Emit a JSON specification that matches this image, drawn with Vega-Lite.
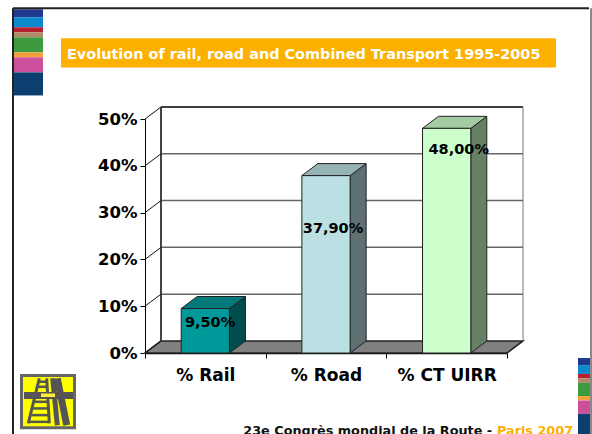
{"$schema":"https://vega.github.io/schema/vega-lite/v6.json","width":362,"height":234,"autosize":{"type":"none"},"padding":{"left":145,"top":119,"right":85,"bottom":81},"background":"white","config":{"view":{"stroke":null}},
"datasets":{
"bars":[{"category":"% Rail","value":9.5},{"category":"% Road","value":37.9},{"category":"% CT UIRR","value":48}],
"ticks":[{"tick":0},{"tick":10},{"tick":20},{"tick":30},{"tick":40},{"tick":50}],
"stripes":[{"order":1,"stripe":"navy","share":8},{"order":2,"stripe":"blue","share":10},{"order":3,"stripe":"red","share":5},{"order":4,"stripe":"tan","share":5},{"order":5,"stripe":"green","share":15},{"order":6,"stripe":"orange","share":5},{"order":7,"stripe":"magenta","share":15},{"order":8,"stripe":"dark","share":23}],
"one":[{"item":"slide"}]},
"resolve":{"scale":{"fill":"independent"},"axis":{"x":"independent","y":"independent"}},
"layer":[
{"data":{"name":"ticks"},"transform":[{"filter":"datum.tick==0"},{"calculate":"0","as":"near"},{"calculate":"1","as":"far"},{"fold":["near","far"],"as":["corner","depth"]},{"calculate":"datum.depth*0.1326","as":"xa"},{"calculate":"3+datum.depth*0.1326","as":"xb"},{"calculate":"datum.depth*2.57","as":"yy"}],
"mark":{"type":"area","orient":"horizontal","fill":"#808080","stroke":"#222222","strokeWidth":1.5},
"encoding":{"x":{"field":"xa","type":"quantitative","stack":null,"scale":{"domain":[0,3]},"axis":{"orient":"bottom","values":[0,1,2,3],"title":null,"grid":false,"domainColor":"#000000","domainWidth":1.5,"tickColor":"#000000","tickSize":5,"labelExpr":"['% Rail','% Road','% CT UIRR',''][datum.value]","labelOffset":60.33,"labelFont":"DejaVu Sans","labelFontWeight":"bold","labelFontSize":17,"labelColor":"#000000","labelPadding":9,"labelBound":false,"labelFlush":false,"labelOverlap":false}},"x2":{"field":"xb"},
"y":{"field":"yy","type":"quantitative","scale":{"domain":[0,50]},"axis":{"orient":"left","values":[0,10,20,30,40,50],"title":null,"grid":false,"domainColor":"#000000","tickColor":"#000000","tickSize":5,"labelExpr":"datum.value+'%'","labelFont":"DejaVu Sans","labelFontWeight":"bold","labelFontSize":16.5,"labelColor":"#000000","labelPadding":3,"labelBound":false,"labelOverlap":false}},"detail":{"field":"tick"}}},
{"data":{"name":"ticks"},"transform":[{"calculate":"datum.tick+2.57","as":"yb"},{"filter":"datum.tick>0"}],"mark":{"type":"rule","strokeWidth":1.5},"encoding":{"x":{"datum":0.1326,"type":"quantitative","axis":null},"x2":{"datum":3.1326},"y":{"field":"yb","type":"quantitative","axis":null},"color":{"condition":{"test":"datum.tick==50","value":"#000000"},"value":"#666666"}}},
{"data":{"name":"one"},"mark":{"type":"rule","strokeWidth":2,"color":"#444444"},"encoding":{"x":{"datum":0.1326,"type":"quantitative","axis":null},"y":{"datum":2.57,"type":"quantitative","axis":null},"y2":{"datum":52.57}}},
{"data":{"name":"one"},"mark":{"type":"rule","strokeWidth":1,"color":"#777777"},"encoding":{"x":{"datum":3.1326,"type":"quantitative","axis":null},"y":{"datum":2.57,"type":"quantitative","axis":null},"y2":{"datum":52.57}}},
{"data":{"name":"ticks"},"transform":[{"calculate":"datum.tick+2.57","as":"yb"}],"mark":{"type":"rule","strokeWidth":1,"color":"#111111"},"encoding":{"x":{"datum":0,"type":"quantitative","axis":null},"x2":{"datum":0.1326},"y":{"field":"tick","type":"quantitative","axis":null},"y2":{"field":"yb"}}},
{"data":{"name":"bars"},"transform":[{"calculate":"indexof(['% Rail','% Road','% CT UIRR'],datum.category)","as":"idx"},{"calculate":"0","as":"near"},{"calculate":"1","as":"far"},{"fold":["near","far"],"as":["corner","depth"]},{"calculate":"datum.idx+0.7+datum.depth*0.1326","as":"xs"},{"calculate":"datum.depth*2.57","as":"yl"},{"calculate":"datum.value+datum.depth*2.57","as":"yu"}],
"mark":{"type":"area","stroke":"#222222","strokeWidth":1},"encoding":{"x":{"field":"xs","type":"quantitative","axis":null},"y":{"field":"yu","type":"quantitative","stack":null,"axis":null},"y2":{"field":"yl"},"detail":{"field":"category"},"fill":{"field":"category","type":"nominal","legend":null,"scale":{"domain":["% Rail","% Road","% CT UIRR"],"range":["#004d4d","#5e7072","#668066"]}}}},
{"data":{"name":"bars"},"transform":[{"calculate":"indexof(['% Rail','% Road','% CT UIRR'],datum.category)","as":"idx"},{"calculate":"0","as":"near"},{"calculate":"1","as":"far"},{"fold":["near","far"],"as":["corner","depth"]},{"calculate":"datum.idx+0.3+datum.depth*0.1326","as":"xa"},{"calculate":"datum.idx+0.7+datum.depth*0.1326","as":"xb"},{"calculate":"datum.value+datum.depth*2.57","as":"yy"}],
"mark":{"type":"area","orient":"horizontal","stroke":"#222222","strokeWidth":1},"encoding":{"x":{"field":"xa","type":"quantitative","stack":null,"axis":null},"x2":{"field":"xb"},"y":{"field":"yy","type":"quantitative","axis":null},"detail":{"field":"category"},"fill":{"field":"category","type":"nominal","legend":null,"scale":{"domain":["% Rail","% Road","% CT UIRR"],"range":["#007a7a","#96b3b6","#a3cca3"]}}}},
{"data":{"name":"bars"},"transform":[{"calculate":"indexof(['% Rail','% Road','% CT UIRR'],datum.category)","as":"idx"},{"calculate":"datum.idx+0.3","as":"xa"},{"calculate":"datum.idx+0.7","as":"xb"}],
"mark":{"type":"rect","stroke":"#222222","strokeWidth":1},"encoding":{"x":{"field":"xa","type":"quantitative","axis":null},"x2":{"field":"xb"},"y":{"field":"value","type":"quantitative","axis":null},"y2":{"datum":0},"fill":{"field":"category","type":"nominal","legend":null,"scale":{"domain":["% Rail","% Road","% CT UIRR"],"range":["#009999","#bbe0e3","#ccffcc"]}}}},
{"data":{"name":"bars"},"transform":[{"calculate":"indexof(['% Rail','% Road','% CT UIRR'],datum.category)","as":"idx"},{"calculate":"[0.539,1.558,2.6][datum.idx]","as":"lx"},{"calculate":"[6.49,26.55,43.47][datum.idx]","as":"ly"},{"calculate":"replace(format(datum.value,'.2f'),'.',',')+'%'","as":"label"}],
"mark":{"type":"text","font":"DejaVu Sans","fontWeight":"bold","fontSize":14.5,"color":"#000000","align":"center","baseline":"middle"},"encoding":{"x":{"field":"lx","type":"quantitative","axis":null},"y":{"field":"ly","type":"quantitative","axis":null},"text":{"field":"label"}}},
{"data":{"name":"one"},"mark":{"type":"rect","fill":"#fcb000"},"encoding":{"x":{"datum":-0.6961,"type":"quantitative","axis":null},"x2":{"datum":3.406},"y":{"datum":67.24,"type":"quantitative","axis":null},"y2":{"datum":61.03}}},
{"data":{"name":"one"},"mark":{"type":"text","font":"DejaVu Sans","fontWeight":"bold","fontSize":14.45,"color":"#ffffff","align":"left","baseline":"middle","text":"Evolution of rail, road and Combined Transport 1995-2005"},"encoding":{"x":{"datum":-0.6464,"type":"quantitative","axis":null},"y":{"datum":63.75,"type":"quantitative","axis":null}}},
{"data":{"name":"stripes"},"transform":[{"stack":"share","groupby":[],"sort":[{"field":"order","order":"ascending"}],"as":["s0","s1"]},{"calculate":"73.45-datum.s0/4.67","as":"y0"},{"calculate":"73.45-datum.s1/4.67","as":"y1"}],"mark":{"type":"rect"},"encoding":{"x":{"datum":-1.0856,"type":"quantitative","axis":null},"x2":{"datum":-0.8453},"y":{"field":"y0","type":"quantitative","axis":null},"y2":{"field":"y1"},"fill":{"field":"stripe","type":"nominal","legend":null,"sort":null,"scale":{"domain":["navy","blue","red","tan","green","orange","magenta","dark"],"range":["#1f3a8c","#0c88cc","#b7202e","#b08a66","#3d9a3d","#f2a13a","#cc4f9c","#0a3f6f"]}}}},
{"data":{"name":"stripes"},"transform":[{"stack":"share","groupby":[],"sort":[{"field":"order","order":"ascending"}],"as":["s0","s1"]},{"calculate":"-1.07-datum.s0/5.283","as":"y0"},{"calculate":"-1.07-datum.s1/5.283","as":"y1"}],"mark":{"type":"rect"},"encoding":{"x":{"datum":3.5883,"type":"quantitative","axis":null},"x2":{"datum":3.6878},"y":{"field":"y0","type":"quantitative","axis":null},"y2":{"field":"y1"},"fill":{"field":"stripe","type":"nominal","legend":null,"sort":null,"scale":{"domain":["navy","blue","red","tan","green","orange","magenta","dark"],"range":["#1f3a8c","#0c88cc","#b7202e","#b08a66","#3d9a3d","#f2a13a","#cc4f9c","#0a3f6f"]}}}},
{"data":{"name":"one"},"mark":{"type":"rule","strokeWidth":2,"color":"#222222"},"encoding":{"x":{"datum":-1.0939,"type":"quantitative","axis":null},"x2":{"datum":3.6795},"y":{"datum":73.66,"type":"quantitative","axis":null}}},
{"data":{"name":"one"},"mark":{"type":"rule","strokeWidth":2,"color":"#222222"},"encoding":{"x":{"datum":-1.0939,"type":"quantitative","axis":null},"y":{"datum":73.66,"type":"quantitative","axis":null},"y2":{"datum":-17.4}}},
{"data":{"name":"one"},"mark":{"type":"rule","strokeWidth":2,"color":"#888888"},"encoding":{"x":{"datum":3.6965,"type":"quantitative","axis":null},"y":{"datum":73.66,"type":"quantitative","axis":null},"y2":{"datum":-17.4}}},
{"data":{"name":"one"},"mark":{"type":"rect","fill":"#ffff00","stroke":"#666666","strokeWidth":3},"encoding":{"x":{"datum":-1.0234,"type":"quantitative","axis":null},"x2":{"datum":-0.5842},"y":{"datum":-4.818,"type":"quantitative","axis":null},"y2":{"datum":-15.953}}},
{"data":{"name":"one"},"mark":{"type":"rule","strokeWidth":3,"color":"#555555"},"encoding":{"x":{"datum":-0.8759,"type":"quantitative","axis":null},"x2":{"datum":-0.9671},"y":{"datum":-5.418,"type":"quantitative","axis":null},"y2":{"datum":-15.054}}},
{"data":{"name":"one"},"mark":{"type":"rule","strokeWidth":3,"color":"#555555"},"encoding":{"x":{"datum":-0.8146,"type":"quantitative","axis":null},"x2":{"datum":-0.7931},"y":{"datum":-5.418,"type":"quantitative","axis":null},"y2":{"datum":-15.054}}},
{"data":{"name":"one"},"mark":{"type":"rule","strokeWidth":2.5,"color":"#555555"},"encoding":{"x":{"datum":-0.8826,"type":"quantitative","axis":null},"x2":{"datum":-0.8121},"y":{"datum":-6.146,"type":"quantitative","axis":null}}},
{"data":{"name":"one"},"mark":{"type":"rule","strokeWidth":2.5,"color":"#555555"},"encoding":{"x":{"datum":-0.8909,"type":"quantitative","axis":null},"x2":{"datum":-0.8105},"y":{"datum":-7.216,"type":"quantitative","axis":null}}},
{"data":{"name":"one"},"mark":{"type":"rule","strokeWidth":2.5,"color":"#555555"},"encoding":{"x":{"datum":-0.9199,"type":"quantitative","axis":null},"x2":{"datum":-0.8038},"y":{"datum":-10.428,"type":"quantitative","axis":null}}},
{"data":{"name":"one"},"mark":{"type":"rule","strokeWidth":2.5,"color":"#555555"},"encoding":{"x":{"datum":-0.9281,"type":"quantitative","axis":null},"x2":{"datum":-0.7997},"y":{"datum":-11.842,"type":"quantitative","axis":null}}},
{"data":{"name":"one"},"mark":{"type":"rule","strokeWidth":2.5,"color":"#555555"},"encoding":{"x":{"datum":-0.9406,"type":"quantitative","axis":null},"x2":{"datum":-0.7956},"y":{"datum":-13.276,"type":"quantitative","axis":null}}},
{"data":{"name":"one"},"mark":{"type":"rule","strokeWidth":2.5,"color":"#555555"},"encoding":{"x":{"datum":-0.953,"type":"quantitative","axis":null},"x2":{"datum":-0.7931},"y":{"datum":-14.711,"type":"quantitative","axis":null}}},
{"data":{"name":"one"},"mark":{"type":"rule","strokeWidth":5,"color":"#555555"},"encoding":{"x":{"datum":-0.7649,"type":"quantitative","axis":null},"x2":{"datum":-0.7268},"y":{"datum":-5.418,"type":"quantitative","axis":null},"y2":{"datum":-15.418}}},
{"data":{"name":"one"},"mark":{"type":"rule","strokeWidth":7,"color":"#555555"},"encoding":{"x":{"datum":-0.7268,"type":"quantitative","axis":null},"x2":{"datum":-0.6489},"y":{"datum":-5.418,"type":"quantitative","axis":null},"y2":{"datum":-15.418}}},
{"data":{"name":"one"},"mark":{"type":"rect","fill":"#555555"},"encoding":{"x":{"datum":-1.0027,"type":"quantitative","axis":null},"x2":{"datum":-0.5967},"y":{"datum":-8.351,"type":"quantitative","axis":null},"y2":{"datum":-9.85}}},
{"data":{"name":"one"},"mark":{"type":"rect","fill":"#ffee33"},"encoding":{"x":{"datum":-0.8618,"type":"quantitative","axis":null},"x2":{"datum":-0.7458},"y":{"datum":-8.672,"type":"quantitative","axis":null},"y2":{"datum":-9.422}}},
{"data":{"name":"one"},"mark":{"type":"text","font":"DejaVu Sans","fontWeight":"bold","fontSize":12.8,"color":"#111111","align":"right","baseline":"middle","text":"23e Congrès mondial de la Route -"},"encoding":{"x":{"datum":2.8766,"type":"quantitative","axis":null},"y":{"datum":-16.7,"type":"quantitative","axis":null}}},
{"data":{"name":"one"},"mark":{"type":"text","font":"DejaVu Sans","fontWeight":"bold","fontSize":12.8,"color":"#fcb000","align":"left","baseline":"middle","text":"Paris 2007"},"encoding":{"x":{"datum":2.917,"type":"quantitative","axis":null},"y":{"datum":-16.7,"type":"quantitative","axis":null}}}
]}
